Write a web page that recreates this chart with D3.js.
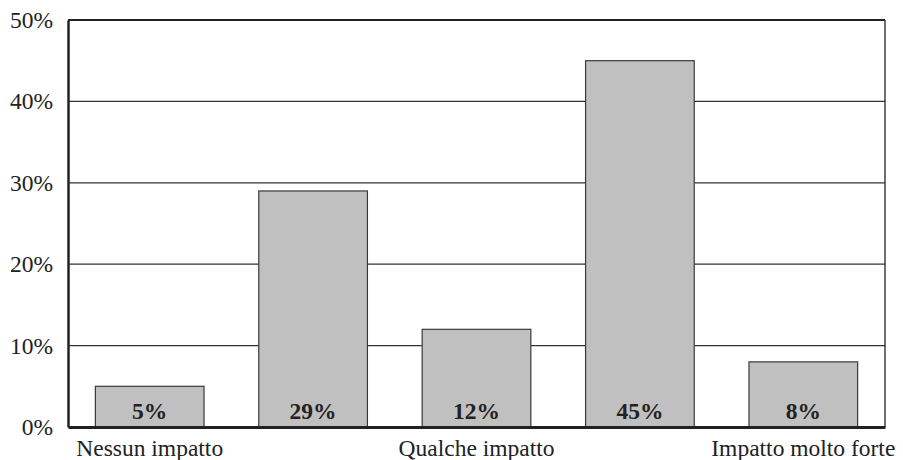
<!DOCTYPE html>
<html>
<head>
<meta charset="utf-8">
<script src="https://cdn.jsdelivr.net/npm/d3@7"></script>
<style>
  body { margin: 0; background: #fff; }
  svg text { font-family: "Liberation Serif", Tinos, "Times New Roman", Times, serif !important; fill: #222; }
</style>
</head>
<body>
<div id="graph"></div>
<script>
// data
var categories = ['c1', 'c2', 'c3', 'c4', 'c5'];
var values = [5, 29, 12, 45, 8];
var axisLabels = ['Nessun impatto', '', 'Qualche impatto', '', 'Impatto molto forte'];
var yTicks = [0, 10, 20, 30, 40, 50];

var width = 903,
    height = 460;
var margin = { top: 20, right: 18, bottom: 33, left: 68 };
var innerW = width - margin.left - margin.right,
    innerH = height - margin.top - margin.bottom;
var fontSize = '23.5px';

var svg = d3.select('#graph')
    .append('svg')
        .attr('width', width)
        .attr('height', height)
        .attr('font-family', '"Liberation Serif", serif')
    .append('g')
        .attr('transform', 'translate(' + margin.left + ',' + margin.top + ')');

var x = d3.scaleBand()
    .domain(categories)
    .range([0, innerW])
    .paddingInner(0.335)
    .paddingOuter(0.1675);

var y = d3.scaleLinear()
    .domain([0, 50])
    .range([innerH, 0]);

// grid lines
svg.append('g')
    .selectAll('line')
    .data(yTicks.filter(function(d) { return d > 0 && d < 50; }))
    .enter().append('line')
    .attr('x1', 0)
    .attr('x2', innerW)
    .attr('y1', function(d) { return y(d); })
    .attr('y2', function(d) { return y(d); })
    .style('stroke', '#333')
    .style('stroke-width', 1.3);

// frame top and right
svg.append('line')
    .attr('x1', 0).attr('x2', innerW)
    .attr('y1', y(50)).attr('y2', y(50))
    .style('stroke', '#222').style('stroke-width', 2);
svg.append('line')
    .attr('x1', innerW).attr('x2', innerW)
    .attr('y1', y(50)).attr('y2', y(0))
    .style('stroke', '#222').style('stroke-width', 1.3);

// bars
svg.append('g')
    .selectAll('rect')
    .data(values)
    .enter().append('rect')
    .attr('x', function(d, i) { return x(categories[i]); })
    .attr('y', function(d) { return y(d); })
    .attr('width', x.bandwidth())
    .attr('height', function(d) { return y(0) - y(d); })
    .style('fill', '#c0c0c0')
    .style('stroke', '#3a3a3a')
    .style('stroke-width', 1.2);

// value labels
svg.append('g')
    .selectAll('text')
    .data(values)
    .enter().append('text')
    .attr('x', function(d, i) { return x(categories[i]) + x.bandwidth() / 2; })
    .attr('y', y(0) - 8)
    .attr('text-anchor', 'middle')
    .style('font-size', fontSize)
    .style('font-weight', 'bold')
    .text(function(d) { return d + '%'; });

// y axis
var yAxis = svg.append('g')
    .call(d3.axisLeft(y).tickValues(yTicks).tickSize(0).tickPadding(15)
        .tickFormat(function(d) { return d + '%'; }));
yAxis.select('.domain').style('stroke', '#222').style('stroke-width', 2.5);
yAxis.selectAll('text')
    .style('font-size', fontSize)
    .style('fill', '#222');

// x axis
var xAxis = svg.append('g')
    .attr('transform', 'translate(0,' + innerH + ')')
    .call(d3.axisBottom(x).tickSize(0).tickPadding(12)
        .tickFormat(function(d, i) { return axisLabels[i]; }));
xAxis.select('.domain').style('stroke', '#222').style('stroke-width', 3);
xAxis.selectAll('text')
    .style('font-size', fontSize)
    .style('fill', '#222');
</script>
</body>
</html>
